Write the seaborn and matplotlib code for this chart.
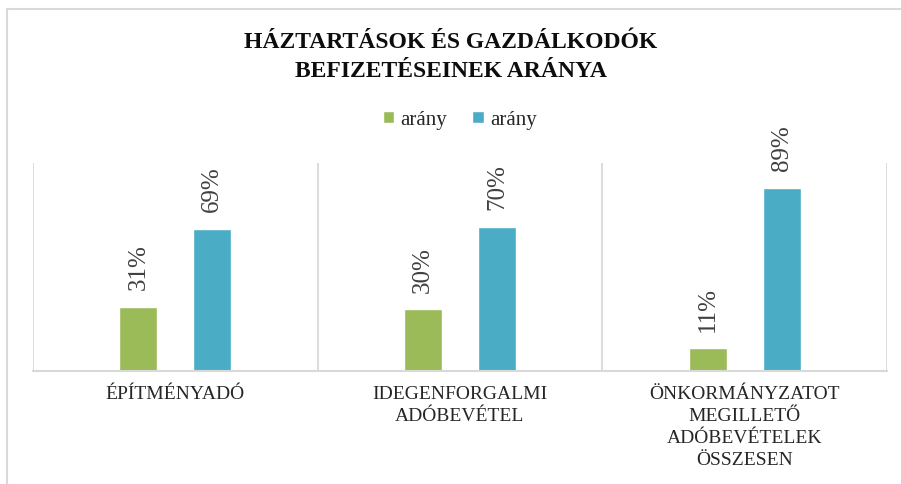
import matplotlib
matplotlib.use("Agg")
import matplotlib.pyplot as plt
import pandas as pd
import seaborn as sns
from matplotlib.patches import Rectangle

sns.set_style("white")
plt.rcParams["font.family"] = ["Liberation Serif", "DejaVu Serif"]

categories = [
    "ÉPÍTMÉNYADÓ",
    "IDEGENFORGALMI\nADÓBEVÉTEL",
    "ÖNKORMÁNYZATOT\nMEGILLETŐ\nADÓBEVÉTELEK\nÖSSZESEN",
]
series_names = ["arány", "arány"]
share_1 = [0.31, 0.30, 0.11]
share_2 = [0.69, 0.70, 0.89]
colors = ["#9BBB59", "#4BACC6"]

df = pd.DataFrame({
    "kategoria": categories * 2,
    "sorozat": ["s1"] * 3 + ["s2"] * 3,
    "ertek": share_1 + share_2,
})

fig = plt.figure(figsize=(9.01, 4.84), dpi=100)
ax = fig.add_axes([33 / 901, 113 / 484, 854 / 901, 208 / 484])

sns.barplot(data=df, x="kategoria", y="ertek", hue="sorozat",
            palette=colors, width=0.52, gap=0.49, ax=ax, saturation=1)

ax.set_ylim(0, 1.01)
ax.set_xlim(-0.5, 2.5)
ax.set_xlabel("")
ax.set_ylabel("")
ax.set_yticks([])

# category separators
for xb in [-0.5, 0.5, 1.5, 2.5]:
    ax.axvline(xb, color="#D9D9D9", lw=1.3, zorder=0)
for side in ["top", "left", "right"]:
    ax.spines[side].set_visible(False)
ax.spines["bottom"].set_color("#D9D9D9")
ax.spines["bottom"].set_linewidth(1.5)

ax.tick_params(axis="x", length=0, pad=11)
for lbl in ax.get_xticklabels():
    lbl.set_fontsize(14)
    lbl.set_color("#262626")
    lbl.set_linespacing(1.37)

for cont in ax.containers:
    ax.bar_label(cont, labels=[f"{v * 100:.0f}%" for v in cont.datavalues],
                 rotation=90, padding=12, fontsize=18, color="#404040")

handles, _ = ax.get_legend_handles_labels()
ax.legend(handles, series_names, loc="center", bbox_to_anchor=(0.5, (484 - 120 - 113) / 208),
          ncol=2, frameon=False, fontsize=15, handlelength=0.55, handleheight=0.55,
          handletextpad=0.3, columnspacing=1.2)

fig.text(451 / 901, 1 - 57 / 484, "HÁZTARTÁSOK ÉS GAZDÁLKODÓK\nBEFIZETÉSEINEK ARÁNYA",
         ha="center", va="center", fontsize=17, fontweight="bold",
         color="#0D0D0D", linespacing=1.45)

# chart frame (cropped at right/bottom)
fig.patches.append(Rectangle((7 / 901, -0.1), 1.2, 1 - 9 / 484 + 0.1,
                             transform=fig.transFigure, fill=False,
                             edgecolor="#D9D9D9", lw=1.5))

fig.savefig("out.png", dpi=100)
